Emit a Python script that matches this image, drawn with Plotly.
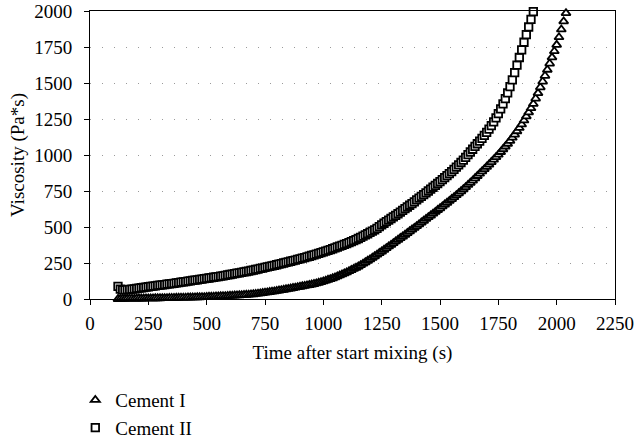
import plotly.graph_objects as go

# Sampling grid of the measurements (s)
time_cement1 = list(range(120, 2041, 10))
time_cement2 = list(range(120, 1901, 10))

# Viscosity readings (Pa*s)
visc_cement1 = [
    0, 1, 1, 1, 2, 2, 2, 2, 3, 3, 3, 3, 4, 4, 4, 4, 5, 5, 5, 6,
    6, 6, 7, 7, 7, 8, 8, 9, 9, 9, 10, 10, 11, 11, 12, 12, 13, 13, 14, 15,
    15, 16, 17, 18, 19, 19, 20, 21, 22, 23, 24, 25, 26, 27, 28, 29, 30, 32, 33, 35,
    37, 39, 41, 44, 46, 48, 51, 53, 56, 59, 61, 64, 67, 70, 73, 76, 79, 82, 85, 88,
    91, 94, 97, 100, 104, 108, 113, 117, 122, 127, 133, 138, 144, 150, 157, 164, 171, 178, 185, 193,
    201, 209, 217, 225, 235, 245, 255, 265, 275, 286, 297, 308, 319, 330, 342, 353, 365, 376, 388, 400,
    411, 423, 434, 446, 458, 470, 482, 494, 506, 518, 531, 543, 556, 568, 580, 593, 605, 618, 630, 643,
    656, 668, 681, 694, 707, 721, 734, 748, 762, 777, 792, 807, 822, 838, 854, 870, 886, 902, 918, 934,
    951, 968, 985, 1002, 1021, 1040, 1059, 1078, 1098, 1120, 1142, 1165, 1188, 1212, 1240, 1268, 1296, 1325, 1355, 1392,
    1430, 1470, 1510, 1550, 1592, 1635, 1678, 1721, 1765, 1818, 1872, 1928, 1985,
]

visc_cement2 = [
    88, 68, 64, 63, 65, 67, 69, 71, 73, 75, 78, 80, 83, 85, 87, 89, 91, 94, 96, 98,
    100, 103, 105, 107, 109, 112, 114, 117, 119, 121, 124, 126, 129, 131, 133, 136, 138, 141, 143, 146,
    148, 151, 153, 156, 159, 161, 164, 167, 170, 173, 176, 179, 182, 185, 188, 191, 194, 198, 201, 205,
    208, 212, 215, 219, 223, 227, 230, 234, 238, 242, 246, 250, 254, 258, 262, 266, 270, 275, 279, 284,
    288, 293, 297, 302, 307, 312, 317, 322, 327, 332, 338, 343, 349, 355, 361, 367, 373, 379, 385, 392,
    399, 406, 413, 420, 428, 436, 445, 453, 462, 471, 480, 490, 502, 515, 526, 537, 548, 559, 570, 581,
    592, 603, 615, 627, 639, 651, 663, 675, 688, 700, 712, 725, 737, 750, 763, 776, 789, 802, 815, 829,
    843, 857, 871, 885, 900, 916, 932, 948, 965, 983, 1002, 1021, 1040, 1060, 1078, 1097, 1116, 1136, 1157, 1180,
    1204, 1230, 1258, 1288, 1320, 1355, 1392, 1432, 1475, 1522, 1572, 1624, 1677, 1730, 1783, 1836, 1889, 1942, 1995,
]

x_ticks = [0, 250, 500, 750, 1000, 1250, 1500, 1750, 2000, 2250]
y_ticks = [0, 250, 500, 750, 1000, 1250, 1500, 1750, 2000]

FONT = "Liberation Serif"

fig = go.Figure()
fig.add_trace(go.Scatter(
    x=time_cement1, y=visc_cement1, name="Cement I", mode="markers",
    marker=dict(symbol="triangle-up", size=8, color="white",
                line=dict(color="black", width=1.8)),
    cliponaxis=False,
))
fig.add_trace(go.Scatter(
    x=time_cement2, y=visc_cement2, name="Cement II", mode="markers",
    marker=dict(symbol="square", size=7.5, color="white",
                line=dict(color="black", width=1.8)),
    cliponaxis=False,
))

fig.update_layout(
    width=640, height=444,
    margin=dict(l=90, r=25, t=11, b=145, autoexpand=False),
    paper_bgcolor="white", plot_bgcolor="white",
    font=dict(family=FONT, size=19, color="black"),
    showlegend=True,
    legend=dict(x=-0.028, y=-0.285, xanchor="left", yanchor="top",
                font=dict(family=FONT, size=19, color="black"),
                bgcolor="rgba(0,0,0,0)", tracegroupgap=0),
    xaxis=dict(
        range=[0, 2250], tickvals=x_ticks, ticktext=[str(v) for v in x_ticks],
        showgrid=False, zeroline=False, automargin=False,
        showline=True, linecolor="black", linewidth=1, mirror=True,
        ticks="outside", ticklen=5, tickcolor="black",
        ticklabelstandoff=2,
        title=dict(text="Time after start mixing (s)", standoff=12,
                   font=dict(family=FONT, size=19)),
    ),
    yaxis=dict(
        range=[0, 2000], tickvals=y_ticks, ticktext=[str(v) for v in y_ticks],
        showgrid=True, gridcolor="#9a9a9a", gridwidth=1, griddash="1px,11px",
        zeroline=False, automargin=False,
        showline=True, linecolor="black", linewidth=1, mirror=True,
        ticks="outside", ticklen=5, tickcolor="black",
        ticklabelstandoff=8,
        title=dict(text="Viscosity (Pa*s)", standoff=4,
                   font=dict(family=FONT, size=19)),
    ),
)

fig.write_html("out.html",
               config={"displayModeBar": False},
               post_script="document.body.style.margin='0';"
                           "document.body.style.overflow='hidden';")
